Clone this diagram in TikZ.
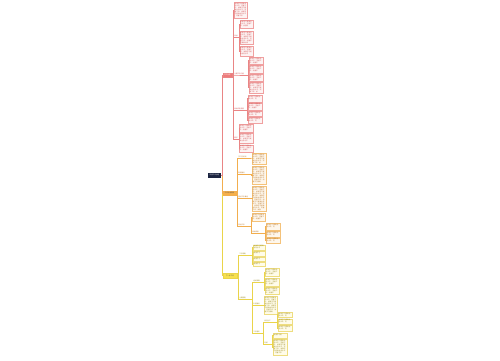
\documentclass[tikz,border=0pt]{standalone}
\usepackage{fontspec}
\newfontfamily\cjk{Noto Sans CJK SC}
\definecolor{rln}{HTML}{E98585}
\definecolor{rbd}{HTML}{F0A0A0}
\definecolor{rfill}{HTML}{FDF3F3}
\definecolor{rtxt}{HTML}{D05555}
\definecolor{rnode}{HTML}{EE7B7B}
\definecolor{oln}{HTML}{F2AE4E}
\definecolor{obd}{HTML}{F4C27A}
\definecolor{ofill}{HTML}{FEF7EC}
\definecolor{otxt}{HTML}{B8762A}
\definecolor{onode}{HTML}{F6B04A}
\definecolor{yln}{HTML}{EAD44A}
\definecolor{ybd}{HTML}{EEDD80}
\definecolor{yfill}{HTML}{FFFCE9}
\definecolor{ytxt}{HTML}{9A8A25}
\definecolor{ynode}{HTML}{F7E04F}
\definecolor{rootc}{HTML}{1C2541}
\newcount\fcc
\newcount\fcm
\newcommand\fpick{\fcm=\fcc \divide\fcm by 16 \multiply\fcm by -16 \advance\fcm by \fcc
  \ifcase\fcm 加\or 强\or 学\or 习\or 提\or 高\or 业\or 务\or 水\or 平\or ，\or 完\or 善\or 工\or 作\or 。\fi}
\newcommand\ftxt[1]{\fcc=0 \loop\ifnum\fcc<#1 \fpick\hskip 0pt plus 0.3pt\advance\fcc by 1 \repeat}
\newcommand\bx[6]{%
  \pgfmathsetmacro\bxw{#5-#3}\pgfmathsetmacro\bxh{#6-#4}%
  \pgfmathsetmacro\bxt{\bxw-1.2}%
  \pgfmathtruncatemacro\bxn{max(1,(\bxh-0.8)/2.0)}%
  \pgfmathtruncatemacro\bxc{\bxt/1.6}%
  \pgfmathtruncatemacro\bxk{max(1,\bxn*\bxc-2)}%
  \node[#2, anchor=north west, minimum width=\bxw pt, minimum height=\bxh pt, text width=\bxt pt] (#1) at (#3,#4) {\ftxt{\bxk}};}
\newcommand\lb[6]{%
  \pgfmathsetmacro\bxw{#5-#3-0.4}%
  \node[#2, anchor=south west, text width=\bxw pt] (#1) at (#3,#4) {#6};}
\tikzset{
  every node/.style={font=\cjk\fontsize{1.6}{2}\selectfont, inner sep=0.4pt},
  rbox/.style={draw=rbd, fill=rfill, text=rtxt, line width=0.25pt, align=left},
  obox/.style={draw=obd, fill=ofill, text=otxt, line width=0.25pt, align=left},
  ybox/.style={draw=ybd, fill=yfill, text=ytxt, line width=0.25pt, align=left},
  rlab/.style={text=rtxt, inner sep=0.2pt, align=left},
  olab/.style={text=otxt, inner sep=0.2pt, align=left},
  ylab/.style={text=ytxt, inner sep=0.2pt, align=left},
  rline/.style={draw=rln, line width=0.4pt},
  oline/.style={draw=oln, line width=0.4pt},
  yline/.style={draw=yln, line width=0.4pt},
  rootst/.style={fill=rootc, text=white, inner sep=0pt, minimum width=13pt, minimum height=4.5pt},
  bnode/.style={inner sep=0pt, draw, line width=0.3pt}
}
\begin{document}
\begin{tikzpicture}[x=1pt,y=-1pt]
\fill[white] (0,0) rectangle (500,360);
\useasboundingbox (0,0) rectangle (500,360);
% root and main branches
\node[rootst] (R) at (214.5,175.3) {年度工作总结};
\node[bnode, fill=rnode, draw=rln, text=white, minimum width=9pt, minimum height=4pt] (B1) at (227.3,75) {工作总结};
\node[bnode, fill=onode, draw=oln, text=black!70, minimum width=13pt, minimum height=4pt] (B2) at (229.5,193) {工作计划安排};
\node[bnode, fill=ynode, draw=yln, text=black!70, minimum width=14pt, minimum height=5pt] (B3) at (230,275.5) {下一步工作};
\draw[yline] (R.east) -- ++(1,0) |- (B3.west);
\draw[oline] (R.east) -- ++(1,0) |- (B2.west);
\draw[rline] (R.east) -- ++(1,0) |- (B1.west);
% red subtree
\bx{A}{rbox}{234}{2}{247}{18}
\lb{S1}{rlab}{234}{37}{238}{目标}
\bx{s1a}{rbox}{239.5}{20}{253}{28}
\bx{s1b}{rbox}{239.5}{31}{253}{44}
\bx{s1c}{rbox}{239.5}{45.5}{253}{56}
\lb{S2}{rlab}{234}{75}{247}{主要工作内容}
\bx{s2a}{rbox}{249}{57}{263}{64}
\bx{s2b}{rbox}{249}{65}{263}{73}
\bx{s2c}{rbox}{249}{74}{263}{81}
\bx{s2d}{rbox}{249}{82}{263}{93}
\lb{S3}{rlab}{234}{110}{246.5}{具体实施措施}
\bx{s3a}{rbox}{248}{95}{262}{101.5}
\bx{s3b}{rbox}{248}{102.5}{262}{110}
\bx{s3c}{rbox}{248}{111}{262}{116}
\bx{s3d}{rbox}{248}{117}{262}{123}
\lb{S4}{rlab}{234}{139}{237.8}{要求}
\bx{s4a}{rbox}{239}{124}{253}{132}
\bx{s4b}{rbox}{239}{133}{253}{143}
\bx{s4c}{rbox}{239}{144.5}{253}{151.5}
\foreach \c in {A,S1.south east,S2.south east,S3.south east,S4.south east}
  \draw[rline] (B1.east) -- ++(1,0) |- (\c);
\foreach \c in {s1a,s1b,s1c} \draw[rline] (S1.south east) -- ++(0.7,0) |- (\c.west);
\foreach \c in {s2a,s2b,s2c,s2d} \draw[rline] (S2.south east) -- ++(1,0) |- (\c.west);
\foreach \c in {s3a,s3b,s3c,s3d} \draw[rline] (S3.south east) -- ++(0.7,0) |- (\c.west);
\foreach \c in {s4a,s4b,s4c} \draw[rline] (S4.south east) -- ++(0.6,0) |- (\c.west);
% orange subtree
\lb{O1}{olab}{238}{158}{250.5}{学习与培训}
\bx{o1}{obox}{252}{153}{266}{164}
\lb{O2}{olab}{238}{174}{250.5}{制度建设}
\bx{o2}{obox}{252}{166}{266}{183.5}
\lb{O3}{olab}{238}{198}{250.5}{重点工作推进}
\bx{o3}{obox}{252}{186}{266}{211}
\lb{O4}{olab}{238}{226}{249}{其他工作}
\bx{o4a}{obox}{252}{213}{265}{221}
\lb{O4b}{olab}{252}{233}{263}{具体安排}
\bx{o4c}{obox}{266}{223}{280}{229.5}
\bx{o4d}{obox}{266}{230.5}{280}{236.5}
\bx{o4e}{obox}{266}{237.5}{280}{243}
\foreach \c in {O1,O2,O3,O4} \draw[oline] (B2.east) -- ++(1,0) |- (\c.south east);
\draw[oline] (O1.south east) -- (o1.west);
\draw[oline] (O2.south east) -- ++(0.7,0) |- (o2.west);
\draw[oline] (O3.south east) -- ++(0.7,0) |- (o3.west);
\draw[oline] (O4.south east) -- ++(1.5,0) |- (o4a.west);
\draw[oline] (O4.south east) -- ++(1.5,0) |- (O4b.south east);
\foreach \c in {o4c,o4d,o4e} \draw[oline] (O4b.south east) -- ++(1.5,0) |- (\c.west);
% yellow subtree
\lb{Y1}{ylab}{239}{255}{251}{工作思路}
\bx{y1a}{ybox}{253}{244.5}{265}{250}
\bx{y1b}{ybox}{253}{251}{265}{255.5}
\bx{y1c}{ybox}{253}{256.5}{265}{260.5}
\bx{y1d}{ybox}{253}{261.5}{265}{266}
\lb{Y2}{ylab}{239}{299}{251}{主要措施}
\lb{Y2a}{ylab}{253}{282}{262.5}{组织保障}
\bx{y2a1}{ybox}{265}{268}{279}{276}
\bx{y2a2}{ybox}{265}{277.5}{279}{285.5}
\bx{y2a3}{ybox}{265}{287}{279}{294}
\lb{Y2b}{ylab}{253}{305}{262.5}{队伍建设}
\bx{y2b1}{ybox}{264}{296}{277}{314}
\lb{Y2c}{ylab}{253}{333}{261.5}{工作落实}
\lb{Y2c1}{ylab}{264}{322}{275.5}{责任分工}
\bx{c1a}{ybox}{278}{312}{292}{317}
\bx{c1b}{ybox}{278}{318.5}{292}{323.5}
\bx{c1c}{ybox}{278}{325}{292}{331}
\lb{Y2c2}{ylab}{264}{344}{271.5}{考核}
\bx{c2a}{ybox}{273}{333}{287}{337.5}
\bx{c2b}{ybox}{273}{339}{287}{355}
\foreach \c in {Y1,Y2} \draw[yline] (B3.east) -- ++(1,0) |- (\c.south east);
\foreach \c in {y1a,y1b,y1c,y1d} \draw[yline] (Y1.south east) -- ++(1,0) |- (\c.west);
\foreach \c in {Y2a,Y2b,Y2c} \draw[yline] (Y2.south east) -- ++(1,0) |- (\c.south east);
\foreach \c in {y2a1,y2a2,y2a3} \draw[yline] (Y2a.south east) -- ++(1,0) |- (\c.west);
\draw[yline] (Y2b.south east) -- ++(0.7,0) |- (y2b1.west);
\foreach \c in {Y2c1,Y2c2} \draw[yline] (Y2c.south east) -- ++(1,0) |- (\c.south east);
\foreach \c in {c1a,c1b,c1c} \draw[yline] (Y2c1.south east) -- ++(1,0) |- (\c.west);
\foreach \c in {c2a,c2b} \draw[yline] (Y2c2.south east) -- ++(0.7,0) |- (\c.west);
\end{tikzpicture}
\end{document}
